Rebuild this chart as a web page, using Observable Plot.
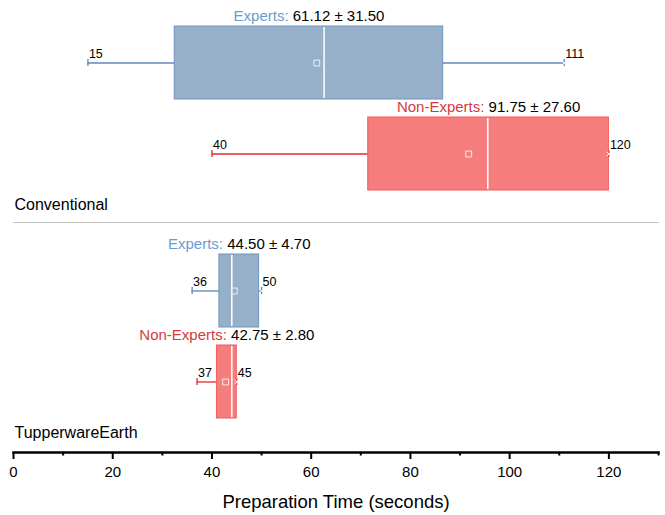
<!DOCTYPE html>
<html>
<head>
<meta charset="utf-8">
<script src="https://cdn.jsdelivr.net/npm/d3@7"></script>
<script src="https://cdn.jsdelivr.net/npm/@observablehq/plot@0.6"></script>
<style>
  html, body { margin: 0; padding: 0; background: #fff; }
  body { font-family: Arial, "Liberation Sans", sans-serif; }
</style>
</head>
<body>
<div id="chart"></div>
<script>
// ---- data ----
const methods = ["Conventional", "Conventional", "TupperwareEarth", "TupperwareEarth"];
const cohorts = ["Experts", "Non-Experts", "Experts", "Non-Experts"];
const minimums = [15, 40, 36, 37];
const lowerQuartiles = [32.5, 71.5, 41.5, 41.0];
const medians = [62.6, 95.6, 44.0, 44.0];
const upperQuartiles = [86.6, 120, 49.5, 45];
const maximums = [111, 120, 50, 45];
const means = [61.12, 91.75, 44.50, 42.75];
const stdDevs = [31.50, 27.60, 4.70, 2.80];

const methodOrder = ["Conventional", "TupperwareEarth"];
const cohortOrder = ["Experts", "Non-Experts"];
const majorTicks = [0, 20, 40, 60, 80, 100, 120];
const minorTicks = [10, 30, 50, 70, 90, 110, 130];
const xTitle = "Preparation Time (seconds)";

// ---- styles ----
const palette = {
  "Experts":     {fill: "#97b0ca", stroke: "#7094bd", whisker: "#5f88b8", label: "#6b9bd2"},
  "Non-Experts": {fill: "#f67d7d", stroke: "#f25a5a", whisker: "#e8282e", label: "#d63a3d"}
};

const rows = methods.map((m, i) => ({
  method: m, cohort: cohorts[i],
  min: minimums[i], q1: lowerQuartiles[i], median: medians[i],
  q3: upperQuartiles[i], max: maximums[i], mean: means[i], sd: stdDevs[i]
}));

const pos = {y: "cohort", fy: "method"};

const chart = Plot.plot({
  width: 665,
  height: 515,
  marginLeft: 13,
  marginRight: 7,
  marginTop: 0,
  marginBottom: 62,
  style: {fontFamily: "Arial, 'Liberation Sans', sans-serif", fontSize: "15px", background: "#fff", color: "#000"},
  x: {domain: [0, 130]},
  y: {domain: cohortOrder, paddingInner: 0.1957, paddingOuter: 0.3152, align: 0.431, axis: null},
  fy: {domain: methodOrder, paddingInner: 0.0218, paddingOuter: 0, axis: null},
  color: {type: "identity"},
  marks: [
    // separator between the two methods
    Plot.frame({anchor: "bottom", stroke: "#c4c4c4", strokeWidth: 1, fy: ["Conventional"], dy: -2}),
    // whiskers
    Plot.ruleY(rows, {...pos, x1: "min", x2: "q1", stroke: d => palette[d.cohort].whisker, strokeWidth: 1.3}),
    Plot.ruleY(rows, {...pos, x1: "q3", x2: "max", stroke: d => palette[d.cohort].whisker, strokeWidth: 1.3}),
    Plot.tickX(rows, {...pos, x: "min", stroke: d => palette[d.cohort].whisker, strokeWidth: 1.3, insetTop: 33, insetBottom: 33}),
    Plot.tickX(rows, {...pos, x: "max", stroke: d => palette[d.cohort].whisker, strokeWidth: 1.3, insetTop: 33, insetBottom: 33}),
    // boxes
    Plot.barX(rows, {...pos, x1: "q1", x2: "q3", fill: d => palette[d.cohort].fill, stroke: d => palette[d.cohort].stroke, strokeWidth: 1}),
    // medians
    Plot.tickX(rows, {...pos, x: "median", stroke: "#ffffff", strokeWidth: 1.5, insetTop: 1, insetBottom: 1}),
    // means
    Plot.dot(rows, {...pos, x: "mean", symbol: "square", r: 3.3, stroke: "#eeeeee", strokeWidth: 1, fill: "none"}),
    Plot.dot(rows, {...pos, x: "max", symbol: "times", r: 2.2, stroke: "#ffffff", strokeWidth: 1}),
    // whisker end labels
    Plot.text(rows, {...pos, x: "min", text: d => String(d.min), textAnchor: "start", dx: 1, dy: -9, fontSize: 12.5, fill: "#000"}),
    Plot.text(rows, {...pos, x: "max", text: d => String(d.max), textAnchor: "start", dx: 1, dy: -9, fontSize: 12.5, fill: "#000"}),
    // mean ± sd labels
    Plot.text(rows, {...pos, x: d => (d.q1 + d.q3) / 2,
      text: d => `${d.cohort}: ${d.mean.toFixed(2)} ± ${d.sd.toFixed(2)}`,
      dy: -47, fontSize: 15, fill: d => palette[d.cohort].label, ariaDescription: "stat-label"}),
    // method labels
    Plot.text(methodOrder, {fy: d => d, text: d => d, frameAnchor: "bottom-left", lineAnchor: "middle", dx: 1, dy: -19.5, fontSize: 16, fill: "#000"}),
    // x axis
    Plot.frame({anchor: "bottom", stroke: "#000", strokeWidth: 2.5, fy: ["TupperwareEarth"]}),
    Plot.axisX({ticks: minorTicks, tickSize: 3.5, tickFormat: () => "", stroke: "#000", strokeWidth: 2, label: null}),
    Plot.axisX({ticks: majorTicks, tickSize: 7, tickPadding: 7, fontSize: 15, stroke: "#000", strokeWidth: 2, fill: "#000", label: null}),
    Plot.text([xTitle], {fy: () => "TupperwareEarth", text: d => d, frameAnchor: "bottom", lineAnchor: "middle", dy: 50, fontSize: 18.5, fill: "#000"})
  ]
});

// colour the "Experts:" / "Non-Experts:" part of each stat label, the numbers in black
const NS = "http://www.w3.org/2000/svg";
chart.querySelectorAll('g[aria-description="stat-label"] text').forEach(t => {
  const full = t.textContent;
  const idx = full.indexOf(":");
  const color = t.getAttribute("fill");
  t.textContent = "";
  const a = document.createElementNS(NS, "tspan");
  a.setAttribute("fill", color);
  a.textContent = full.slice(0, idx + 1);
  const b = document.createElementNS(NS, "tspan");
  b.setAttribute("fill", "#000");
  b.textContent = full.slice(idx + 1);
  t.append(a, b);
});

document.getElementById("chart").append(chart);
</script>
</body>
</html>
